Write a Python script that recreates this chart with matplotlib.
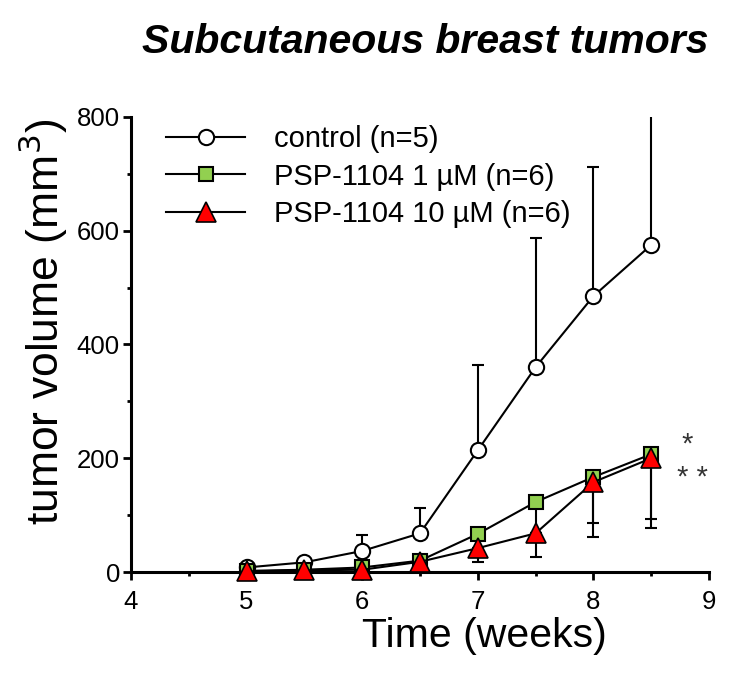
import numpy as np
import matplotlib
matplotlib.use("Agg")
import matplotlib.pyplot as plt
from matplotlib.ticker import MultipleLocator

plt.rcParams['font.family'] = ['Liberation Sans', 'DejaVu Sans']

# data
weeks = [5, 5.5, 6, 6.5, 7, 7.5, 8, 8.5]

control = [8, 17, 37, 68, 214, 360, 485, 575]
control_up = [4, 6, 28, 44, 150, 227, 227, 300]

psp_1 = [2, 4, 8, 20, 67, 123, 167, 207]
psp_1_down = [1, 2, 4, 8, 10, 55, 81, 114]

psp_10 = [1, 3, 4, 18, 42, 68, 158, 200]
psp_10_down = [1, 2, 2, 6, 24, 42, 96, 123]

labels = ["control (n=5)", "PSP-1104 1 µM (n=6)", "PSP-1104 10 µM (n=6)"]
stars = [(8.81, 224, "*"), (8.86, 166, "* *")]

fig = plt.figure(figsize=(7.38, 6.91), dpi=100)
ax = fig.add_axes([0.1775, 0.1722, 0.7832, 0.6585])

lw = 1.5
zeros = np.zeros(len(weeks))

# error bars first (one-sided)
ax.errorbar(weeks, control, yerr=[zeros, control_up], fmt="none",
            ecolor="black", elinewidth=lw, capsize=4, capthick=lw, zorder=2)
ax.errorbar(weeks, psp_1, yerr=[psp_1_down, zeros], fmt="none",
            ecolor="black", elinewidth=lw, capsize=4, capthick=lw, zorder=2)
ax.errorbar(weeks, psp_10, yerr=[psp_10_down, zeros], fmt="none",
            ecolor="black", elinewidth=lw, capsize=4, capthick=lw, zorder=2)

ax.plot(weeks, control, color="black", lw=lw, marker="o", ms=11,
        mfc="white", mec="black", mew=1.5, label=labels[0], clip_on=False, zorder=3)
ax.plot(weeks, psp_1, color="black", lw=lw, marker="s", ms=10.5,
        mfc="#92D050", mec="black", mew=1.5, label=labels[1], clip_on=False, zorder=4)
ax.plot(weeks, psp_10, color="black", lw=lw, marker="^", ms=15,
        mfc="#FF0000", mec="black", mew=1.2, label=labels[2], clip_on=False, zorder=5)

for x, y, s in stars:
    ax.text(x, y, s, fontsize=21, color="#333333", ha="center", va="center")

ax.set_xlim(4, 9)
ax.set_ylim(0, 800)
ax.xaxis.set_major_locator(MultipleLocator(1))
ax.xaxis.set_minor_locator(MultipleLocator(0.5))
ax.yaxis.set_major_locator(MultipleLocator(200))
ax.yaxis.set_minor_locator(MultipleLocator(100))

for side in ["top", "right"]:
    ax.spines[side].set_visible(False)
for side in ["left", "bottom"]:
    ax.spines[side].set_linewidth(2.2)

ax.tick_params(axis="both", which="major", direction="out", width=2,
               length=6, labelsize=18.5)
ax.tick_params(axis="both", which="minor", direction="out", width=2, length=3)
ax.tick_params(axis="y", which="major", pad=2)
ax.tick_params(axis="x", which="major", pad=7)

ax.set_xlabel("Time (weeks)", fontsize=29.5)
ax.xaxis.set_label_coords(0.612, -0.098)
ax.set_ylabel("tumor volume (mm$^3$)", fontsize=32)
ax.yaxis.set_label_coords(-0.152, 0.55)
ax.yaxis.label.set_va("center")

ax.legend(loc="upper left", bbox_to_anchor=(0.016, 1.04), frameon=False,
          fontsize=21, handlelength=2.7, handletextpad=1.0, labelspacing=0.33)

fig.text(0.576, 0.939, "Subcutaneous breast tumors", fontsize=29.5,
         fontweight="bold", fontstyle="italic", ha="center", va="center")

fig.savefig("out.png", dpi=100)
